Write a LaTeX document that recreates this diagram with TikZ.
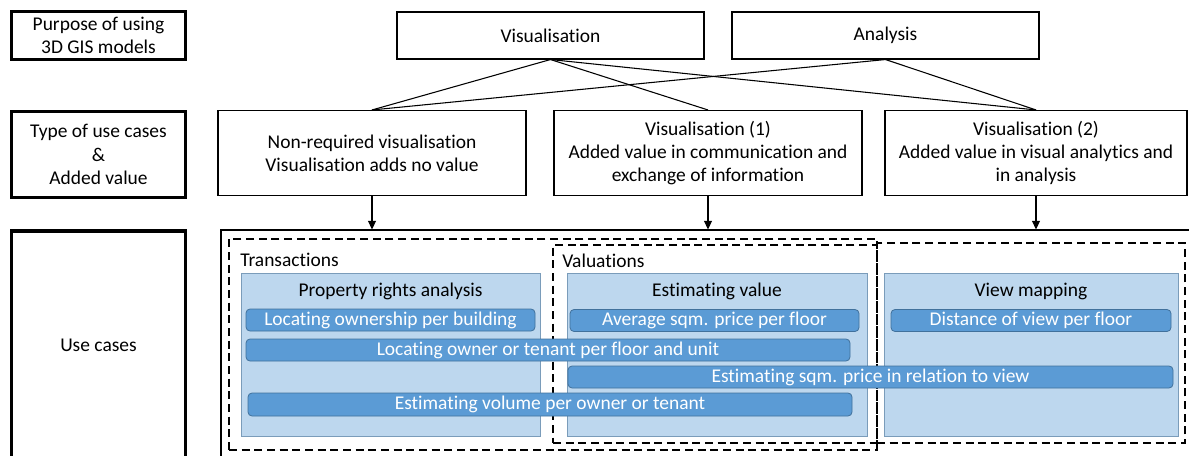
\documentclass[tikz,border=0pt]{standalone}
\usepackage{fontspec}
\setmainfont{Carlito}[Ligatures={NoCommon}]
\usetikzlibrary{arrows.meta}
\definecolor{lightfill}{HTML}{BDD7EE}
\definecolor{barfill}{HTML}{5B9BD5}
\definecolor{barline}{HTML}{41719C}
\tikzset{
  every node/.style={font=\fontsize{14.6pt}{17.4pt}\selectfont, inner sep=0pt, align=center},
  sz/.style 2 args={minimum width=#1*0.75pt, minimum height=#2*0.75pt},
  labelbox/.style={draw, line width=2.6pt, rectangle},
  plainbox/.style={draw, line width=0.8pt, rectangle},
  groupbox/.style={draw, line width=1.6pt, dash pattern=on 6pt off 3.5pt, rectangle},
  lightbox/.style={draw=barline!70, fill=lightfill, line width=0.6pt, rectangle},
  barbox/.style={draw=barline, fill=barfill, line width=0.6pt, rounded corners=3pt, rectangle, text=white},
  link/.style={line width=0.8pt},
  arrowlink/.style={line width=0.8pt, -{Triangle[length=6.5pt,width=6pt]}},
}
\begin{document}
\begin{tikzpicture}[x=0.75pt,y=-0.75pt]
\useasboundingbox (0,0) rectangle (1189,456);
\clip (0,0) rectangle (1189,456);
\fill[white] (0,0) rectangle (1189,456);
% left labels
\node[labelbox, sz={174}{48}] (p1) at (98.5,35.5) {Purpose of using\\3D GIS models};
\node[labelbox, sz={174}{86}] (p2) at (98.5,154.5) {Type of use cases\\\&\\Added value};
\node[labelbox, sz={174}{228}] (p3) at (98.5,345) {Use cases};
% purpose
\node[plainbox, sz={307}{47}] (vis) at (550.5,35.5) {Visualisation};
\node[plainbox, sz={307}{47}] (ana) at (885.5,35.5) {Analysis};
% types
\node[plainbox, sz={308}{85}] (nr) at (372,153) {Non-required visualisation\\Visualisation adds no value};
\node[plainbox, sz={308}{85}] (v1) at (708,153) {Visualisation (1)\\Added value in communication and\\exchange of information};
\node[plainbox, sz={302}{85}] (v2) at (1036,153) {Visualisation (2)\\Added value in visual analytics and\\in analysis};
\draw[link] (vis.south) -- (nr.north);
\draw[link] (vis.south) -- (v1.north);
\draw[link] (vis.south) -- (v2.north);
\draw[link] (ana.south) -- (nr.north);
\draw[link] (ana.south) -- (v2.north);
% outer use-case frame
\node[plainbox, sz={979}{240}] (outer) at (710.5,350) {};
\draw[arrowlink] (nr.south) -- (nr.south |- outer.north);
\draw[arrowlink] (v1.south) -- (v1.south |- outer.north);
\draw[arrowlink] (v2.south) -- (v2.south |- outer.north);
% dashed groups
\node[groupbox, sz={648}{211}] (trans) at (553,344.5) {};
\node[groupbox, sz={324}{198}] (val) at (715,344) {};
\node[groupbox, sz={308}{200}] (third) at (1031,343) {};
\node[anchor=west] (transl) at (240,260) {Transactions};
\node[anchor=west] (vall) at (562,261) {Valuations};
% light boxes
\node[lightbox, sz={299}{163}] (tb) at (390.5,354.5) {};
\node[lightbox, sz={300}{163}] (eb) at (717,354.5) {};
\node[lightbox, sz={294}{163}] (vb) at (1031,354.5) {};
\node (tbt) at (390.5,291) {Property rights analysis};
\node (ebt) at (717,291) {Estimating value};
\node (vbt) at (1031,291) {View mapping};
% bars
\node[barbox, sz={289}{22}] (b1) at (390.5,320) {Locating ownership per building};
\node[barbox, sz={604}{22}] (b2) at (548,350) {Locating owner or tenant per floor and unit};
\node[barbox, sz={605}{22}] (b3) at (870.5,377) {Estimating sqm. price in relation to view};
\node[barbox, sz={604}{23}] (b4) at (550,404.5) {Estimating volume per owner or tenant};
\node[barbox, sz={289}{22}] (b5) at (714.5,320.5) {Average sqm. price per floor};
\node[barbox, sz={280}{22}] (b6) at (1031,320.5) {Distance of view per floor};
\end{tikzpicture}
\end{document}
